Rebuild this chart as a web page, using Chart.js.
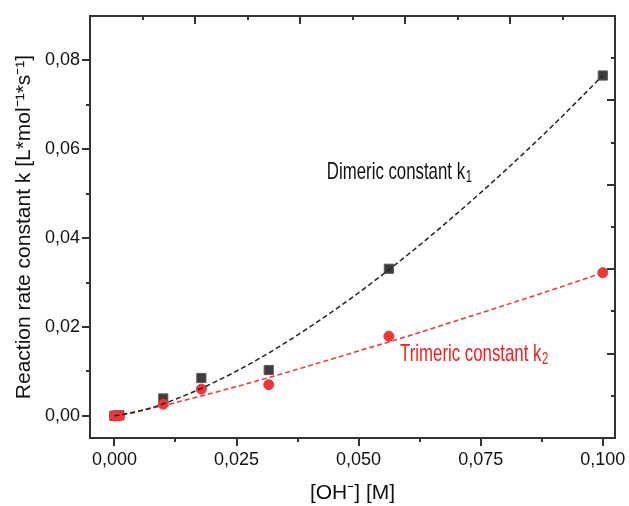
<!DOCTYPE html>
<html>
<head>
<meta charset="utf-8">
<script src="https://cdn.jsdelivr.net/npm/chart.js@4.4.1/dist/chart.umd.min.js"></script>
<style>
  body { margin: 0; background: #fff; }
</style>
</head>
<body>
<canvas id="grafico" width="629" height="506"></canvas>
<script>
// measured points
var concOH = [0, 0.0003, 0.001, 0.01, 0.0178, 0.0316, 0.0562, 0.1];
var kDimer = [0, 0, 0.0001, 0.0039, 0.0085, 0.0103, 0.0331, 0.0766];
var kTrimer = [0, 0, 0, 0.0026, 0.0060, 0.0070, 0.0179, 0.0322];

// dashed fit curves
var fitX = [0, 0.005, 0.01, 0.02, 0.03, 0.04, 0.05, 0.06, 0.07, 0.08, 0.09, 0.1];
var fitDimer = [0, 0.0010, 0.0027, 0.0073, 0.0131, 0.0200, 0.0277, 0.0362, 0.0454, 0.0552, 0.0656, 0.0766];
var fitTrimer = [0, 0.0011, 0.0023, 0.0051, 0.0081, 0.0113, 0.0146, 0.0179, 0.0214, 0.0249, 0.0285, 0.0322];

// tick marks
var xMajor = [0, 0.025, 0.05, 0.075, 0.1];
var xMinor = [0.0125, 0.0375, 0.0625, 0.0875];
var yMajor = [0, 0.02, 0.04, 0.06, 0.08];
var yMinor = [0.01, 0.03, 0.05, 0.07];
var frameMajor = [0.2, 0.4, 0.6, 0.8];
var frameMinor = [0.1, 0.3, 0.5, 0.7, 0.9];

var fuente = '"Liberation Sans", Arial, sans-serif';

function pares(xs, ys) {
    return xs.map(function(x, i) { return {x: x, y: ys[i]}; });
}

function coma(v, dec) {
    return Math.abs(v).toFixed(dec).replace('.', ',');
}

// fixed box sizes, no extra room for overhanging labels
function fijar(ancho, alto) {
    return function(sc) {
        if (ancho !== null) sc.width = ancho;
        if (alto !== null) sc.height = alto;
        sc.paddingLeft = 0; sc.paddingRight = 0;
        sc.paddingTop = 0; sc.paddingBottom = 0;
    };
}

// frame + ticks (out on left/bottom, in on top/right)
var marcoPlugin = {
    id: 'marco',
    beforeDatasetsDraw: function(chart) {
        var ctx = chart.ctx, a = chart.chartArea, s = chart.scales;
        ctx.save();
        ctx.strokeStyle = '#333';
        ctx.lineWidth = 2;
        ctx.lineCap = 'butt';
        ctx.strokeRect(a.left, a.top, a.right - a.left, a.bottom - a.top);

        function tickX(scale, vals, yEdge, len) {
            vals.forEach(function(v) {
                var px = Math.round(scale.getPixelForValue(v));
                ctx.beginPath(); ctx.moveTo(px, yEdge); ctx.lineTo(px, yEdge + len); ctx.stroke();
            });
        }
        function tickY(scale, vals, xEdge, len) {
            vals.forEach(function(v) {
                var py = Math.round(scale.getPixelForValue(v));
                ctx.beginPath(); ctx.moveTo(xEdge, py); ctx.lineTo(xEdge + len, py); ctx.stroke();
            });
        }
        tickX(s.x, xMajor, a.bottom, 8);
        tickX(s.x, xMinor, a.bottom, 4);
        tickY(s.y, yMajor, a.left, -8);
        tickY(s.y, yMinor, a.left, -4);
        tickX(s.x2, frameMajor, a.top, 8);
        tickX(s.x2, frameMinor, a.top, 4);
        tickY(s.y2, frameMajor, a.right, -8);
        tickY(s.y2, frameMinor, a.right, -4);
        ctx.restore();
    },
    afterDatasetsDraw: function(chart) {
        var ctx = chart.ctx, s = chart.scales;
        function etiqueta(xv, yv, main, sub, color) {
            ctx.save();
            ctx.translate(s.x.getPixelForValue(xv), s.y.getPixelForValue(yv));
            ctx.scale(0.7, 1);
            ctx.fillStyle = color;
            ctx.textBaseline = 'alphabetic';
            ctx.textAlign = 'left';
            ctx.font = '24px ' + fuente;
            ctx.fillText(main, 0, 0);
            var w = ctx.measureText(main).width;
            ctx.font = '16px ' + fuente;
            ctx.fillText(sub, w + 1, 3);
            ctx.restore();
        }
        etiqueta(0.0435, 0.0533, 'Dimeric constant k', '1', '#111');
        etiqueta(0.0585, 0.0123, 'Trimeric constant k', '2', '#ff1a1a');
    }
};

var grafico = new Chart(document.getElementById('grafico').getContext('2d'), {
    type: 'scatter',
    data: {
        datasets: [{
            label: 'fit dimer',
            data: pares(fitX, fitDimer),
            showLine: true,
            borderColor: '#222',
            borderWidth: 1.5,
            borderDash: [5, 3],
            pointRadius: 0,
            cubicInterpolationMode: 'monotone',
            order: 0
        }, {
            label: 'fit trimer',
            data: pares(fitX, fitTrimer),
            showLine: true,
            borderColor: '#ff3030',
            borderWidth: 1.5,
            borderDash: [5, 3],
            pointRadius: 0,
            cubicInterpolationMode: 'monotone',
            order: 1
        }, {
            label: 'Trimeric',
            data: pares(concOH, kTrimer),
            pointStyle: 'circle',
            pointRadius: 5,
            borderWidth: 1,
            backgroundColor: '#ef3535',
            borderColor: '#ef3535',
            order: 2
        }, {
            label: 'Dimeric',
            data: pares(concOH, kDimer),
            pointStyle: 'rect',
            pointRadius: 6.5,
            borderWidth: 1,
            backgroundColor: '#3d3d3d',
            borderColor: '#5a5a5a',
            order: 3
        }]
    },
    options: {
        responsive: false,
        animation: false,
        layout: { padding: 0 },
        plugins: { legend: { display: false }, tooltip: { enabled: false } },
        scales: {
            x: {
                type: 'linear', position: 'bottom', min: -0.005, max: 0.1025,
                grid: { display: true, drawOnChartArea: false, drawTicks: false },
                border: { display: false },
                ticks: {
                    stepSize: 0.025, includeBounds: false, padding: 11, maxRotation: 0, autoSkip: false,
                    color: '#111', font: { family: fuente, size: 18 },
                    callback: function(v) { return coma(v, 3); }
                },
                title: {
                    display: true, text: '[OH\u207B] [M]', color: '#111',
                    font: { family: fuente, size: 21 }, padding: { top: 0, bottom: 0 }
                },
                afterFit: fijar(null, 68)
            },
            y: {
                type: 'linear', position: 'left', min: -0.005, max: 0.09,
                grid: { display: true, drawOnChartArea: false, drawTicks: false },
                border: { display: false },
                ticks: {
                    stepSize: 0.02, includeBounds: false, padding: 10,
                    color: '#111', font: { family: fuente, size: 18 },
                    callback: function(v) { return coma(v, 2); }
                },
                title: {
                    display: true, text: 'Reaction rate constant k [L*mol\u207B\u00B9*s\u207B\u00B9]', color: '#111',
                    font: { family: fuente, size: 21 }, padding: { top: 12, bottom: 0 }
                },
                afterFit: fijar(90, null)
            },
            x2: {
                type: 'linear', position: 'top', min: 0, max: 1,
                grid: { display: true, drawOnChartArea: false, drawTicks: false },
                border: { display: false },
                ticks: { display: false },
                afterFit: fijar(null, 16)
            },
            y2: {
                type: 'linear', position: 'right', min: 0, max: 1,
                grid: { display: true, drawOnChartArea: false, drawTicks: false },
                border: { display: false },
                ticks: { display: false },
                afterFit: fijar(14, null)
            }
        }
    },
    plugins: [marcoPlugin]
});
</script>
</body>
</html>
